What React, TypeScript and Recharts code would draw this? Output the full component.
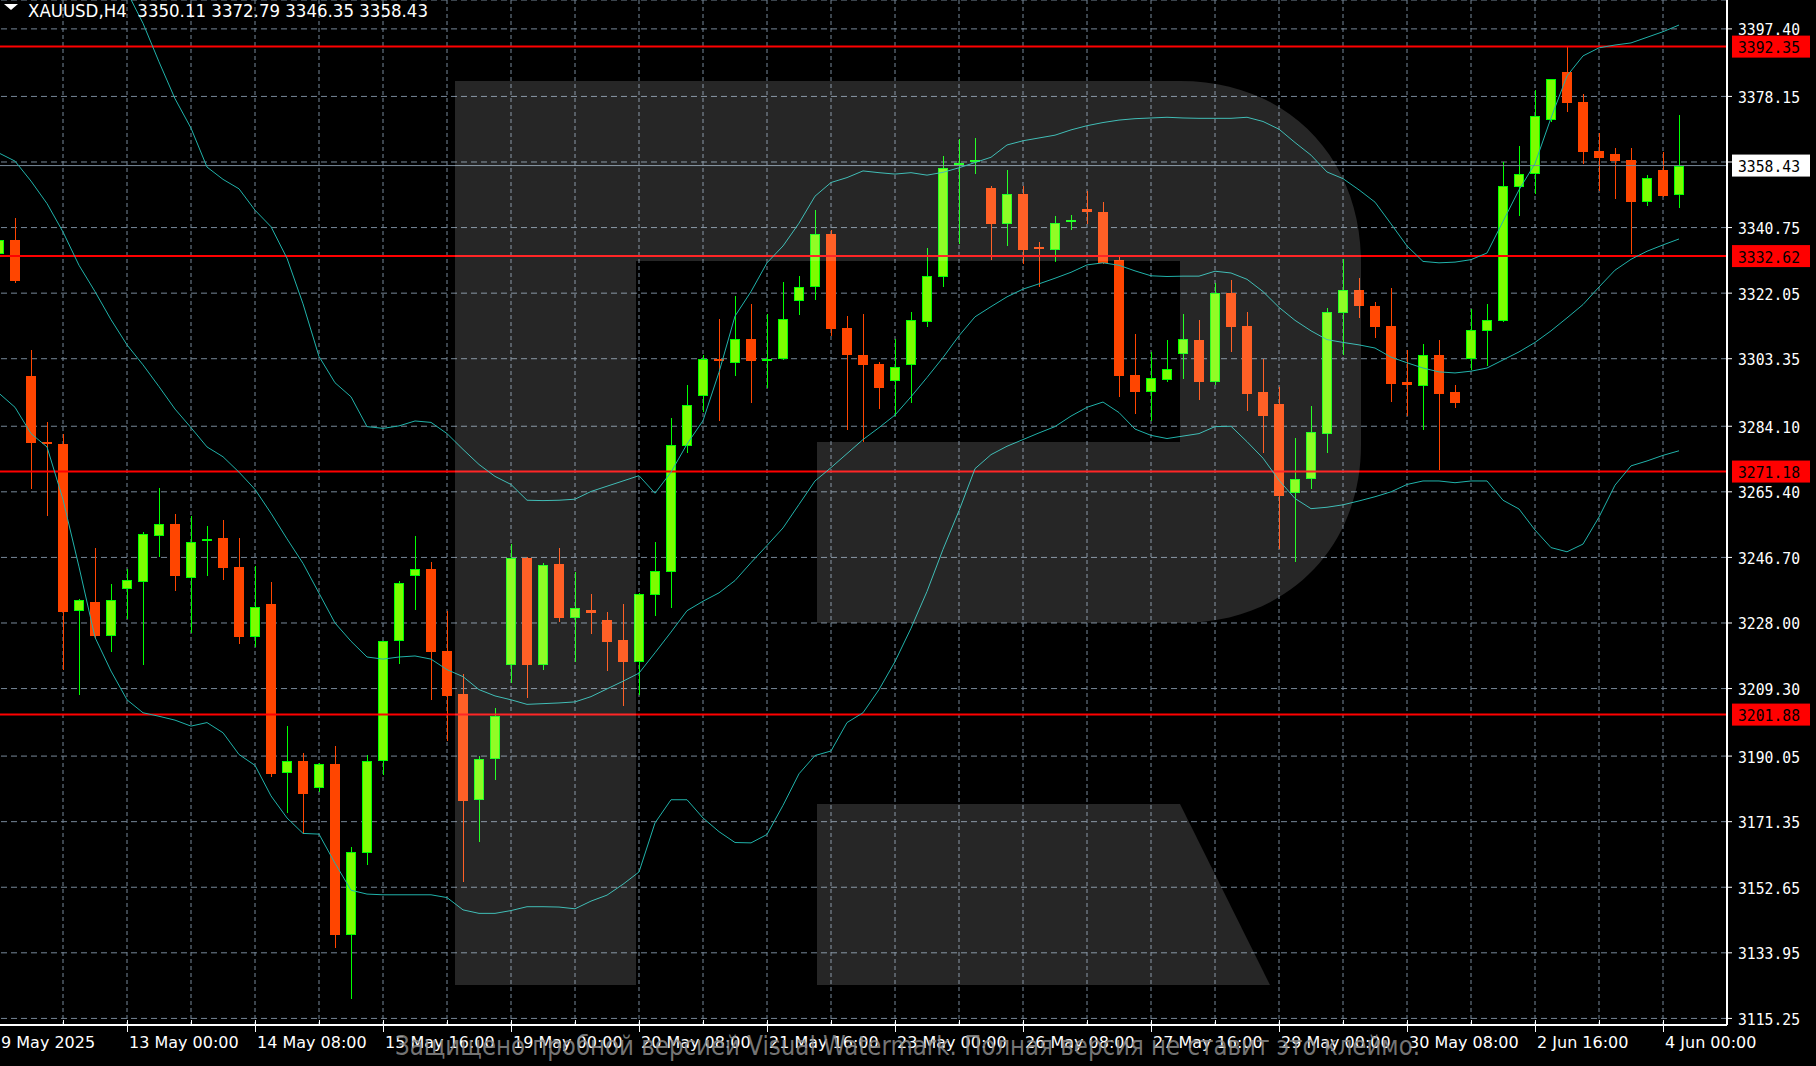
import React from 'react';
import { ComposedChart, Bar, Line, XAxis, YAxis, CartesianGrid, ReferenceLine } from 'recharts';

// candle index k runs from -1 (partly hidden at the left edge) to 104 (last bar)
const opens = [
  3333.3, 3337.1, 3298.5, 3279.6, 3279.0, 3231.4, 3234.0, 3224.3, 3237.6, 3239.8,
  3252.8, 3256.1, 3240.9, 3251.3, 3252.2, 3244.1, 3223.9, 3233.5, 3185.1, 3188.7,
  3181.0, 3187.7, 3138.9, 3162.4, 3188.7, 3223.0, 3241.5, 3243.4, 3220.0, 3207.8,
  3177.6, 3189.1, 3215.9, 3246.4, 3215.9, 3244.7, 3229.5, 3231.6, 3228.8, 3223.2,
  3217.0, 3235.9, 3242.6, 3278.6, 3292.7, 3303.3, 3302.2, 3309.0, 3302.9, 3303.2,
  3319.8, 3323.8, 3338.9, 3312.1, 3304.5, 3301.9, 3297.0, 3301.6, 3313.8, 3326.6,
  3358.6, 3359.5, 3352.0, 3341.9, 3350.4, 3335.1, 3334.3, 3342.6, 3346.1, 3345.1,
  3331.5, 3298.8, 3293.8, 3297.4, 3304.8, 3308.6, 3296.8, 3322.1, 3312.7, 3293.8,
  3290.4, 3265.1, 3269.1, 3282.0, 3316.3, 3323.0, 3318.3, 3312.7, 3296.6, 3295.7,
  3304.5, 3293.8, 3303.2, 3311.4, 3314.0, 3352.2, 3356.0, 3371.4, 3385.0, 3376.6,
  3362.7, 3361.8, 3359.9, 3347.9, 3357.1, 3350.11,
];
const highs = [
  3340.0, 3343.4, 3305.8, 3285.4, 3282.0, 3234.8, 3249.4, 3239.1, 3243.4, 3253.9,
  3266.4, 3259.1, 3258.6, 3255.6, 3257.3, 3252.2, 3244.3, 3239.7, 3198.6, 3190.9,
  3188.1, 3192.8, 3164.1, 3190.4, 3223.0, 3240.0, 3252.8, 3245.3, 3231.4, 3213.4,
  3190.2, 3203.7, 3250.5, 3246.8, 3245.1, 3249.4, 3242.6, 3236.3, 3231.0, 3233.5,
  3236.5, 3251.1, 3286.5, 3296.0, 3304.5, 3314.8, 3321.1, 3318.9, 3316.1, 3325.1,
  3326.9, 3345.7, 3340.1, 3315.5, 3316.1, 3302.4, 3309.0, 3316.6, 3334.8, 3361.2,
  3365.9, 3366.3, 3352.6, 3357.1, 3352.6, 3336.7, 3344.0, 3344.2, 3351.3, 3347.9,
  3332.6, 3310.5, 3305.2, 3308.6, 3316.1, 3314.4, 3324.9, 3325.8, 3316.6, 3303.4,
  3295.3, 3280.7, 3289.9, 3317.8, 3331.8, 3326.4, 3319.5, 3323.6, 3305.8, 3307.5,
  3308.6, 3295.9, 3317.4, 3318.9, 3359.5, 3364.0, 3380.0, 3383.2, 3392.5, 3378.9,
  3367.8, 3363.3, 3363.3, 3355.8, 3362.2, 3372.79,
];
const lows = [
  3331.0, 3325.0, 3266.1, 3258.6, 3214.5, 3207.4, 3223.5, 3219.8, 3229.0, 3215.9,
  3246.9, 3237.0, 3225.2, 3241.3, 3240.2, 3222.0, 3221.1, 3184.0, 3173.7, 3167.7,
  3179.9, 3135.3, 3120.7, 3159.1, 3184.6, 3216.4, 3231.8, 3206.1, 3194.3, 3154.2,
  3165.6, 3183.3, 3210.8, 3206.7, 3214.7, 3228.4, 3217.0, 3224.8, 3214.2, 3204.2,
  3207.6, 3229.9, 3232.3, 3276.4, 3288.2, 3285.5, 3298.5, 3290.6, 3294.9, 3303.0,
  3315.7, 3320.0, 3309.7, 3283.1, 3279.7, 3288.9, 3286.9, 3290.8, 3312.3, 3323.8,
  3336.1, 3356.0, 3331.5, 3335.6, 3330.5, 3323.8, 3330.9, 3340.2, 3341.9, 3330.5,
  3292.3, 3287.6, 3285.5, 3296.8, 3297.5, 3291.7, 3295.9, 3305.2, 3288.4, 3276.4,
  3249.2, 3245.5, 3266.1, 3276.4, 3304.5, 3315.1, 3309.2, 3291.0, 3287.0, 3282.9,
  3271.5, 3289.3, 3300.0, 3301.3, 3313.8, 3344.0, 3350.4, 3370.8, 3373.8, 3358.8,
  3351.1, 3348.9, 3333.1, 3347.0, 3349.6, 3346.35,
];
const closes = [
  3337.1, 3325.5, 3279.2, 3279.0, 3231.2, 3234.6, 3224.3, 3234.6, 3240.2, 3253.3,
  3256.1, 3241.3, 3251.1, 3251.9, 3243.8, 3223.9, 3232.7, 3184.9, 3188.7, 3179.3,
  3187.7, 3138.9, 3162.6, 3188.7, 3223.0, 3239.5, 3243.4, 3219.8, 3207.2, 3177.1,
  3189.2, 3201.4, 3246.4, 3215.9, 3244.5, 3229.3, 3232.2, 3230.9, 3222.6, 3217.0,
  3236.3, 3242.8, 3278.8, 3290.2, 3303.4, 3302.8, 3309.0, 3302.6, 3303.3, 3314.8,
  3323.9, 3338.9, 3311.8, 3304.3, 3301.5, 3295.1, 3301.1, 3314.4, 3326.9, 3357.7,
  3359.1, 3360.0, 3341.9, 3350.4, 3334.3, 3334.6, 3342.1, 3342.8, 3345.3, 3330.7,
  3298.5, 3293.8, 3297.9, 3300.5, 3309.0, 3296.8, 3322.1, 3312.3, 3293.2, 3287.0,
  3264.2, 3269.1, 3282.4, 3316.6, 3323.0, 3318.3, 3312.3, 3296.2, 3296.0, 3304.5,
  3293.2, 3290.6, 3311.6, 3314.4, 3352.6, 3356.0, 3372.5, 3383.2, 3376.2, 3362.4,
  3360.5, 3359.6, 3348.1, 3354.9, 3349.8, 3358.43,
];
const upperBand = [
  3452, 3450, 3447, 3443, 3438, 3432, 3425, 3417, 3408, 3399,
  3388, 3377.5, 3369.1, 3358, 3354.5, 3351.8, 3345.7, 3341, 3332, 3319,
  3304, 3296.5, 3292.5, 3284, 3283.5, 3284.2, 3285.6, 3285.2, 3282, 3277.5,
  3273.2, 3269.8, 3267.5, 3263, 3262.9, 3263, 3263.3, 3265.5, 3267, 3268.5,
  3270, 3265, 3271, 3279, 3285.7, 3299.5, 3315.5, 3322.5, 3330.7, 3335.5,
  3342, 3349.7, 3353.6, 3355, 3356.9, 3356.4, 3356, 3356.4, 3355.7, 3356.5,
  3357.8, 3359.3, 3360.8, 3364.3, 3365.5, 3366.3, 3367.1, 3368.6, 3369.8, 3370.7,
  3371.4, 3371.8, 3372, 3372.2, 3372, 3371.9, 3371.9, 3371.9, 3372.2, 3371,
  3368.8, 3365, 3361.4, 3356.6, 3354.7, 3351.5, 3348, 3341.8, 3335.5, 3331.1,
  3330.7, 3330.9, 3331.6, 3333.5, 3342.5, 3351.5, 3359, 3372, 3384, 3389.7,
  3392, 3392.8, 3393.4, 3395, 3396.6, 3398.5,
];
const middleBand = [
  3362, 3359.7, 3354, 3347.6, 3339.5, 3330, 3322.5, 3314.5, 3307.3, 3301.6,
  3295.4, 3289, 3283.7, 3278.2, 3275.4, 3271, 3266.1, 3259.3, 3252, 3245,
  3236.5, 3228, 3222.8, 3218.3, 3217.7, 3218.3, 3218.6, 3217.7, 3214.7, 3212.7,
  3209, 3207.2, 3206.1, 3204.8, 3205, 3205.2, 3205.5, 3207, 3209.2, 3211.4,
  3213.7, 3219.5, 3225.4, 3231.5, 3234.2, 3236.6, 3240.1, 3245.2, 3250.1, 3255.1,
  3261.8, 3268.5, 3272.3, 3276.3, 3280.3, 3283.7, 3287.3, 3292.5, 3298, 3303.7,
  3309.9, 3315.3, 3318.2, 3321, 3323.2, 3324.7, 3326.3, 3328, 3330.1, 3330.7,
  3330, 3328.4, 3327, 3326.8, 3326.9, 3326.9, 3328.3, 3327.8, 3326, 3322.5,
  3318, 3314.3, 3311.3, 3308.8, 3308, 3307.3, 3306.4, 3303.8, 3302.2, 3300.7,
  3299.6, 3299.3, 3299.8, 3300.7, 3303, 3305.3, 3308, 3311.3, 3315, 3318.8,
  3323.8, 3328.6, 3331.7, 3334, 3335.8, 3337.5,
];
const lowerBand = [
  3293.5, 3289.5, 3282, 3278.2, 3263.2, 3244, 3223.9, 3214.3, 3206.1, 3202.4,
  3201.4, 3200.3, 3198.6, 3199.6, 3196.7, 3190.5, 3187.4, 3178.7, 3172.4, 3168,
  3167.8, 3159.5, 3151.8, 3150.7, 3150.5, 3150.5, 3150.5, 3150.5, 3149.7, 3146.2,
  3145.2, 3145.2, 3146, 3147.1, 3147.1, 3147, 3146.5, 3148.7, 3150.4, 3153.5,
  3157, 3171, 3177.6, 3177.6, 3172.4, 3168.5, 3165.4, 3165.3, 3167.7, 3176,
  3185, 3190.2, 3191.5, 3199.6, 3202.4, 3209, 3217, 3226.5, 3237, 3249,
  3260, 3272, 3276, 3278.4, 3280.3, 3282.2, 3284, 3287, 3289.5, 3291,
  3288, 3283.3, 3281.5, 3280.6, 3281.3, 3282, 3284, 3284.1, 3279.7, 3275,
  3268.7, 3263.5, 3260.6, 3261, 3261.7, 3262.8, 3264, 3265.4, 3267.5, 3268.5,
  3268.5, 3268, 3268.5, 3268.5, 3263, 3260.5, 3254.5, 3249.5, 3248.3, 3250.5,
  3258.2, 3267.3, 3272.8, 3274.2, 3275.8, 3277.1,
];

const priceTicks = [3397.40, 3378.15, 3359.45, 3340.75, 3322.05, 3303.35, 3284.10, 3265.40, 3246.70, 3228.00, 3209.30, 3190.05, 3171.35, 3152.65, 3133.95, 3115.25];
const hiddenPriceTick = 3359.45;
const levelLines = [3392.35, 3332.62, 3271.18, 3201.88];
const lastPrice = 3358.43;
const timeLabelIdx = [-1, 7, 15, 23, 31, 39, 47, 55, 63, 71, 79, 87, 95, 103];
const timeLabels = ['9 May 2025', '13 May 00:00', '14 May 08:00', '15 May 16:00', '19 May 00:00', '20 May 08:00', '21 May 16:00', '23 May 00:00', '26 May 08:00', '27 May 16:00', '29 May 00:00', '30 May 08:00', '2 Jun 16:00', '4 Jun 00:00'];
const gridIdx: number[] = [];
for (let k = -1; k <= 103; k += 4) gridIdx.push(k);

const Y_MIN = 3113.37;
const Y_MAX = 3405.64;
const SLOTS = 108; // k = -1 .. 106 (two empty slots at the right)

const data: any[] = [];
for (let i = 0; i < SLOTS; i++) {
  data.push({
    k: i - 1,
    o: opens[i], h: highs[i], l: lows[i], c: closes[i],
    up: upperBand[i], mid: middleBand[i], lo: lowerBand[i],
  });
}

const PRICE_FONT = "'DejaVu Sans Mono', 'Liberation Mono', monospace";
const LABEL_FONT = "'DejaVu Sans', 'Liberation Sans', sans-serif";
const BULL_EDGE = '#00FF00';
const BULL_FILL = '#7CFC00';
const BEAR = '#FF4500';
const BAND = '#20B2AA';
const GRID = '#778899';

function Candle(props: any) {
  const { x, y, width, height, payload } = props;
  if (!payload || payload.h == null || payload.l == null) return <g />;
  const top = Math.min(y, y + height);
  const span = Math.abs(height);
  const range = payload.h - payload.l;
  const toY = (p: number) => (range > 0 ? top + ((payload.h - p) / range) * span : top);
  const cx = Math.round(x + width / 2);
  const bull = payload.c >= payload.o;
  let b0 = Math.min(toY(payload.o), toY(payload.c));
  let b1 = Math.max(toY(payload.o), toY(payload.c));
  if (b1 - b0 < 2) {
    const m = (b0 + b1) / 2;
    b0 = m - 1;
    b1 = m + 1;
  }
  b0 = Math.round(b0);
  b1 = Math.round(b1);
  const edge = bull ? BULL_EDGE : BEAR;
  const wTop = Math.round(top);
  const wBot = Math.round(top + span);
  return (
    <g shapeRendering="crispEdges">
      <rect x={cx} y={wTop} width={1} height={Math.max(1, wBot - wTop)} fill={edge} />
      <rect x={cx - 5} y={b0} width={10} height={Math.max(2, b1 - b0)} fill={edge} />
      {bull && b1 - b0 > 2 ? <rect x={cx - 4} y={b0 + 1} width={8} height={b1 - b0 - 2} fill={BULL_FILL} /> : null}
    </g>
  );
}

function YTick(props: any) {
  const { x, y, payload } = props;
  const v = Number(payload.value);
  if (Math.abs(v - hiddenPriceTick) < 0.001) return <g />;
  return (
    <text x={x} y={y + 1} dominantBaseline="central" fill="#FFFFFF" fontFamily={PRICE_FONT} fontSize={16} textLength={62} lengthAdjust="spacingAndGlyphs">
      {v.toFixed(2)}
    </text>
  );
}

function XTick(props: any) {
  const { x, y, payload } = props;
  const idx = timeLabelIdx.indexOf(Number(payload.value));
  const tx = Math.round(x);
  return (
    <g>
      <line x1={tx + 0.5} x2={tx + 0.5} y1={y - 5} y2={idx >= 0 ? y + 7 : y} stroke="#FFFFFF" strokeWidth={1} />
      {idx >= 0 ? (
        <text x={tx + 2} y={y + 23} fill="#FFFFFF" fontFamily={LABEL_FONT} fontSize={16}>
          {timeLabels[idx]}
        </text>
      ) : null}
    </g>
  );
}

function PriceTag(props: any) {
  const { viewBox, text, bg, fg } = props;
  if (!viewBox) return <g />;
  const x = viewBox.x + viewBox.width + 5;
  const y = viewBox.y;
  return (
    <g>
      <rect x={x} y={y - 11} width={78} height={22} fill={bg} />
      <text x={x + 6} y={y + 1} dominantBaseline="central" fill={fg} fontFamily={PRICE_FONT} fontSize={16} textLength={62} lengthAdjust="spacingAndGlyphs">
        {text}
      </text>
    </g>
  );
}

const last = opens.length - 1;
const titleText = `XAUUSD,H4  ${opens[last].toFixed(2)} ${highs[last].toFixed(2)} ${lows[last].toFixed(2)} ${closes[last].toFixed(2)}`;

export default function App() {
  return (
    <div style={{ position: 'absolute', left: 0, top: 0, width: 1816, height: 1066, background: '#000000', overflow: 'hidden' }}>
      <div style={{ position: 'absolute', left: -9, top: 0 }}>
        <ComposedChart width={1825} height={1066} data={data} margin={{ top: 0, right: 0, bottom: 0, left: 0 }}>
          <CartesianGrid horizontal={true} vertical={false} stroke={GRID} strokeDasharray="6 4" />
          <CartesianGrid horizontal={false} vertical={true} stroke={GRID} strokeDasharray="4 3" />
          <XAxis
            dataKey="k"
            type="category"
            padding={{ left: 0, right: 8 }}
            height={41}
            ticks={gridIdx}
            interval={0}
            tick={<XTick />}
            tickLine={false}
            tickSize={0}
            tickMargin={0}
            axisLine={{ stroke: '#FFFFFF', strokeWidth: 2 }}
          />
          <YAxis
            orientation="right"
            type="number"
            domain={[Y_MIN, Y_MAX]}
            allowDataOverflow={true}
            ticks={priceTicks}
            interval={0}
            width={89}
            tickSize={5}
            tickMargin={6}
            tickLine={{ stroke: '#FFFFFF' }}
            axisLine={{ stroke: '#FFFFFF', strokeWidth: 2 }}
            tick={<YTick />}
          />
          <ReferenceLine
            y={lastPrice}
            stroke={GRID}
            strokeWidth={1}
            label={(p: any) => <PriceTag {...p} text={lastPrice.toFixed(2)} bg="#FFFFFF" fg="#000000" />}
          />
          {levelLines.map((v) => (
            <ReferenceLine
              key={v}
              y={v}
              stroke="#FF0000"
              strokeWidth={2}
              label={(p: any) => <PriceTag {...p} text={v.toFixed(2)} bg="#FF0000" fg="#000000" />}
            />
          ))}
          <Line dataKey="up" type="linear" stroke={BAND} strokeWidth={1} dot={false} activeDot={false} isAnimationActive={false} />
          <Line dataKey="mid" type="linear" stroke={BAND} strokeWidth={1} dot={false} activeDot={false} isAnimationActive={false} />
          <Line dataKey="lo" type="linear" stroke={BAND} strokeWidth={1} dot={false} activeDot={false} isAnimationActive={false} />
          <Bar
            dataKey={(d: any) => (d.h == null ? null : [d.l, d.h])}
            barSize={10}
            shape={(p: any) => <Candle {...p} />}
            isAnimationActive={false}
          />
        </ComposedChart>
      </div>
      <svg width={1816} height={1066} style={{ position: 'absolute', left: 0, top: 0, pointerEvents: 'none' }}>
        <path d="M455,81 H636 V985 H455 Z" fill="#FFFFFF" fillOpacity={0.15} />
        <path d="M636,81 H1180 C1290,81 1361,160 1361,262 V445 C1361,545 1290,623 1180,623 H817 V442 H1180 V261 H636 Z" fill="#FFFFFF" fillOpacity={0.15} />
        <path d="M817,804 H1180 L1270,985 H817 Z" fill="#FFFFFF" fillOpacity={0.15} />
        <path d="M4,4 L18,4 L11,10 Z" fill="#FFFFFF" />
        <text x={28} y={17} fill="#FFFFFF" fontFamily={LABEL_FONT} fontSize={17} textLength={400} lengthAdjust="spacingAndGlyphs" style={{ whiteSpace: 'pre' }}>
          {titleText}
        </text>
        <text x={395} y={1055} fill="#8A8A8A" fillOpacity={0.85} fontFamily={LABEL_FONT} fontSize={26} textLength={1025} lengthAdjust="spacingAndGlyphs">
          Защищено пробной версией Visual Watermark. Полная версия не ставит это клеймо.
        </text>
      </svg>
    </div>
  );
}
